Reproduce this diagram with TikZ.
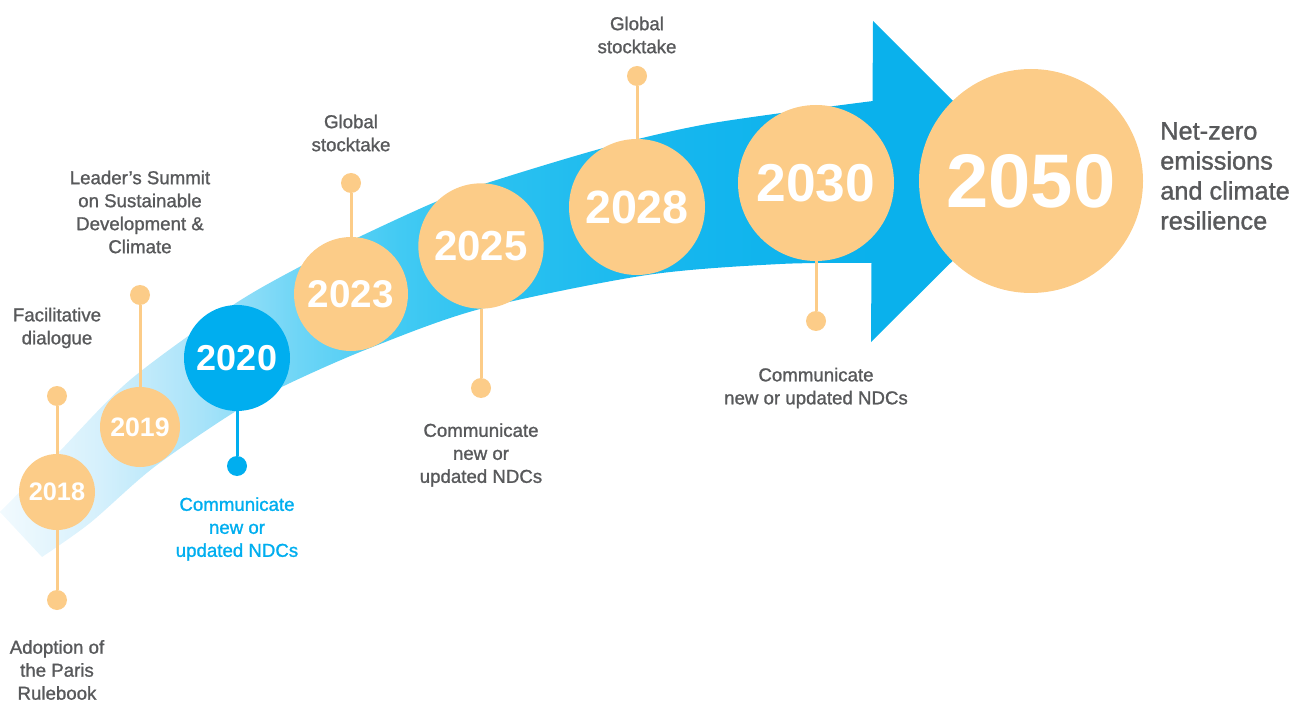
\documentclass[tikz,border=0pt]{standalone}
\usepackage{fontspec}
\setmainfont{Liberation Sans}
\newfontfamily\labfont[FakeBold=1.2]{Liberation Sans}
\usepackage{tikz}
\usetikzlibrary{calc}

\definecolor{ndcblue}{HTML}{00AEEF}
\definecolor{headblue}{HTML}{0AB1EC}
\definecolor{ballorange}{HTML}{FCCC88}
\definecolor{labgray}{HTML}{58595B}
\definecolor{band0}{HTML}{F2FAFE}
\definecolor{band1}{HTML}{D5F0FC}
\definecolor{band2}{HTML}{A8E3F9}
\definecolor{band3}{HTML}{6DD5F6}
\definecolor{band4}{HTML}{42CAF3}
\definecolor{band5}{HTML}{2AC1F0}
\definecolor{band6}{HTML}{14B6EE}

\pgfdeclarehorizontalshading{bandshade}{100bp}{color(0bp)=(band0); color(25bp)=(band0);
  color(30.7bp)=(band1); color(36.5bp)=(band2); color(42.2bp)=(band3); color(47.9bp)=(band4);
  color(53.6bp)=(band5); color(65bp)=(band6); color(75bp)=(headblue); color(100bp)=(headblue)}

\tikzset{
  year/.style={circle, fill=ballorange, text=white, inner sep=0pt,
    font=\fontsize{#1}{#1}\selectfont\bfseries},
  stem/.style={draw=ballorange, line width=2.25pt},
  knob/.style={circle, fill=ballorange, inner sep=0pt, minimum size=15pt},
  event/.style={align=center, text=labgray, inner sep=0pt,
    font=\labfont\fontsize{14}{17.25}\selectfont},
}

\begin{document}
\begin{tikzpicture}[x=0.75pt,y=-0.75pt]
\useasboundingbox (0,0) rectangle (1303,702);

\shade[shading=bandshade]
  (42,557) -- plot[smooth] coordinates {(0,512) (58,453) (130,380) (233,305) (303,265) (359,237) (433,203) (487,183) (607,147) (713,123) (873,101)}
  -- (873,263)
  -- plot[smooth] coordinates {(873,263) (780,264) (647,275) (480,309) (370,348) (290,383) (233,413) (153,468) (90,523) (42,557)}
  -- cycle;
\fill[headblue] (873,21) -- (1033,181) -- (871,342) -- cycle;

\node[year=19, minimum size=57pt] (y2018) at (57,492) {2018};
\node[year=20, minimum size=60pt] (y2019) at (140,427) {2019};
\node[year=27, minimum size=79.5pt, fill=ndcblue] (y2020) at (237,358) {2020};
\node[year=29, minimum size=85.5pt] (y2023) at (351,294) {2023};
\node[year=31.5, minimum size=94pt] (y2025) at (481,246) {2025};
\node[year=35, minimum size=102pt] (y2028) at (637,207) {2028};
\node[year=40, minimum size=117pt] (y2030) at (816,183) {2030};
\node[year=57, minimum size=168pt] (y2050) at (1031,181) {2050};

\node[knob] (k2018a) at (57,396) {};
\node[knob] (k2018b) at (57,600) {};
\node[knob] (k2019) at (140,295) {};
\node[knob, fill=ndcblue] (k2020) at (237,466) {};
\node[knob] (k2023) at (351,183) {};
\node[knob] (k2025) at (481,388) {};
\node[knob] (k2028) at (637,76) {};
\node[knob] (k2030) at (816,321) {};

\draw[stem] (y2018) -- (k2018a);
\draw[stem] (y2018) -- (k2018b);
\draw[stem] (y2019) -- (k2019);
\draw[stem, draw=ndcblue] (y2020) -- (k2020);
\draw[stem] (y2023) -- (k2023);
\draw[stem] (y2025) -- (k2025);
\draw[stem] (y2028) -- (k2028);
\draw[stem] (y2030) -- (k2030);

\node[event] (t2018b) at (57,670) {Adoption of\\the Paris\\Rulebook};
\node[event] (t2018a) at (57,328) {Facilitative\\dialogue};
\node[event] (t2019) at (140,212) {Leader’s Summit\\on Sustainable\\Development \&\\Climate};
\node[event, text=ndcblue] (t2020) at (237,529) {Communicate\\new or\\updated NDCs};
\node[event] (t2023) at (351,133) {Global\\stocktake};
\node[event] (t2025) at (481,455) {Communicate\\new or\\updated NDCs};
\node[event] (t2028) at (637,35) {Global\\stocktake};
\node[event] (t2030) at (816,388) {Communicate\\new or updated NDCs};
\node[event, align=left, anchor=west, font=\labfont\fontsize{19}{22.5}\selectfont] (goal) at (1160,176) {Net-zero\\emissions\\and climate\\resilience};
\end{tikzpicture}
\end{document}
